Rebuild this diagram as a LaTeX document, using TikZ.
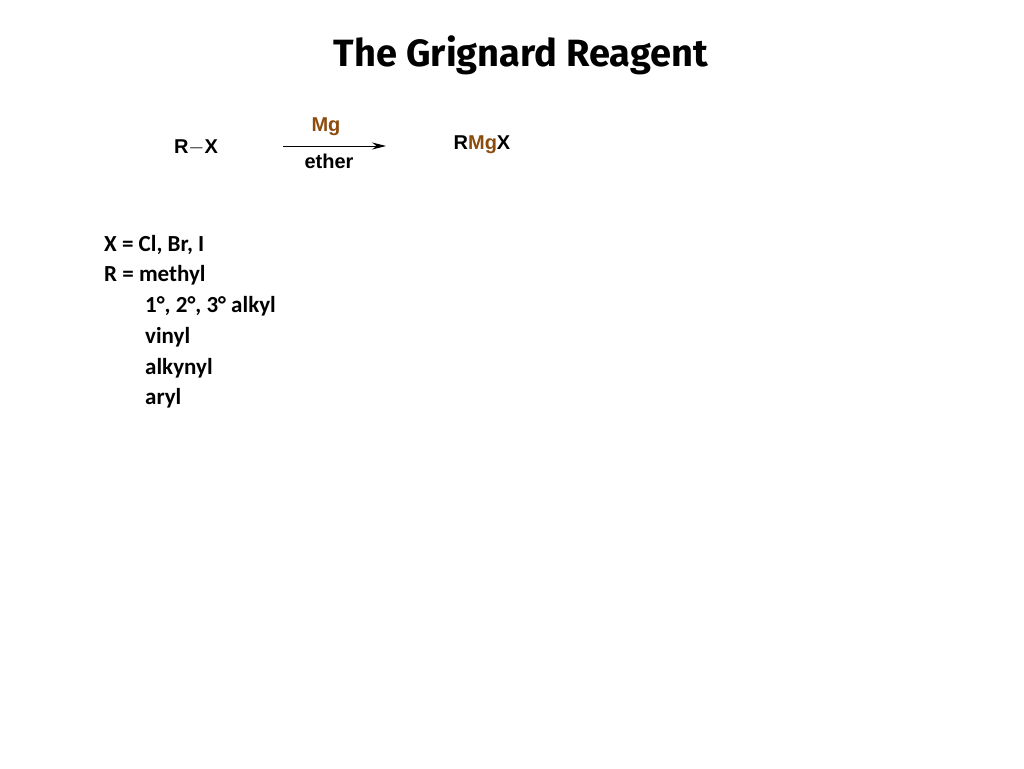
\documentclass[tikz,border=0pt]{standalone}
\usepackage{fontspec}
\setmainfont{Carlito}
\newfontfamily\arialf{Liberation Sans}
\newfontfamily\titlef{Fira Sans}
\definecolor{mgbrown}{HTML}{8B4C0E}
\usetikzlibrary{arrows.meta}
\tikzset{
  rx/.style={font=\arialf\bfseries\fontsize{20}{24}\selectfont, inner sep=0pt},
  lst/.style={font=\bfseries\fontsize{23}{28}\selectfont, anchor=west, inner sep=0pt},
}
\begin{document}
\begin{tikzpicture}[x=1pt,y=-1pt]
\useasboundingbox (0,0) rectangle (1024,768);
\node[font=\titlef\bfseries\fontsize{38}{44}\selectfont, inner sep=0pt] (title) at (521,55) {The Grignard Reagent};
\node[rx] (rx) at (196,147) {R$-$X};
\coordinate (a1) at (283,146);
\coordinate (a2) at (386,146);
\draw[line width=1pt, -{Stealth[length=14pt,width=7pt]}] (a1) -- (a2);
\node[rx, text=mgbrown] (mg) at (326,127) {Mg};
\node[rx] (ether) at (329,161) {ether};
\node[rx] (prod) at (482,145) {R\textcolor{mgbrown}{Mg}X};
\node[lst] (l1) at (104,245) {X = Cl, Br, I};
\node[lst] (l2) at (104,275) {R = methyl};
\node[lst] (l3) at (145,306) {1°, 2°, 3° alkyl};
\node[lst] (l4) at (145,337) {vinyl};
\node[lst] (l5) at (145,368) {alkynyl};
\node[lst] (l6) at (145,398) {aryl};
\end{tikzpicture}
\end{document}
